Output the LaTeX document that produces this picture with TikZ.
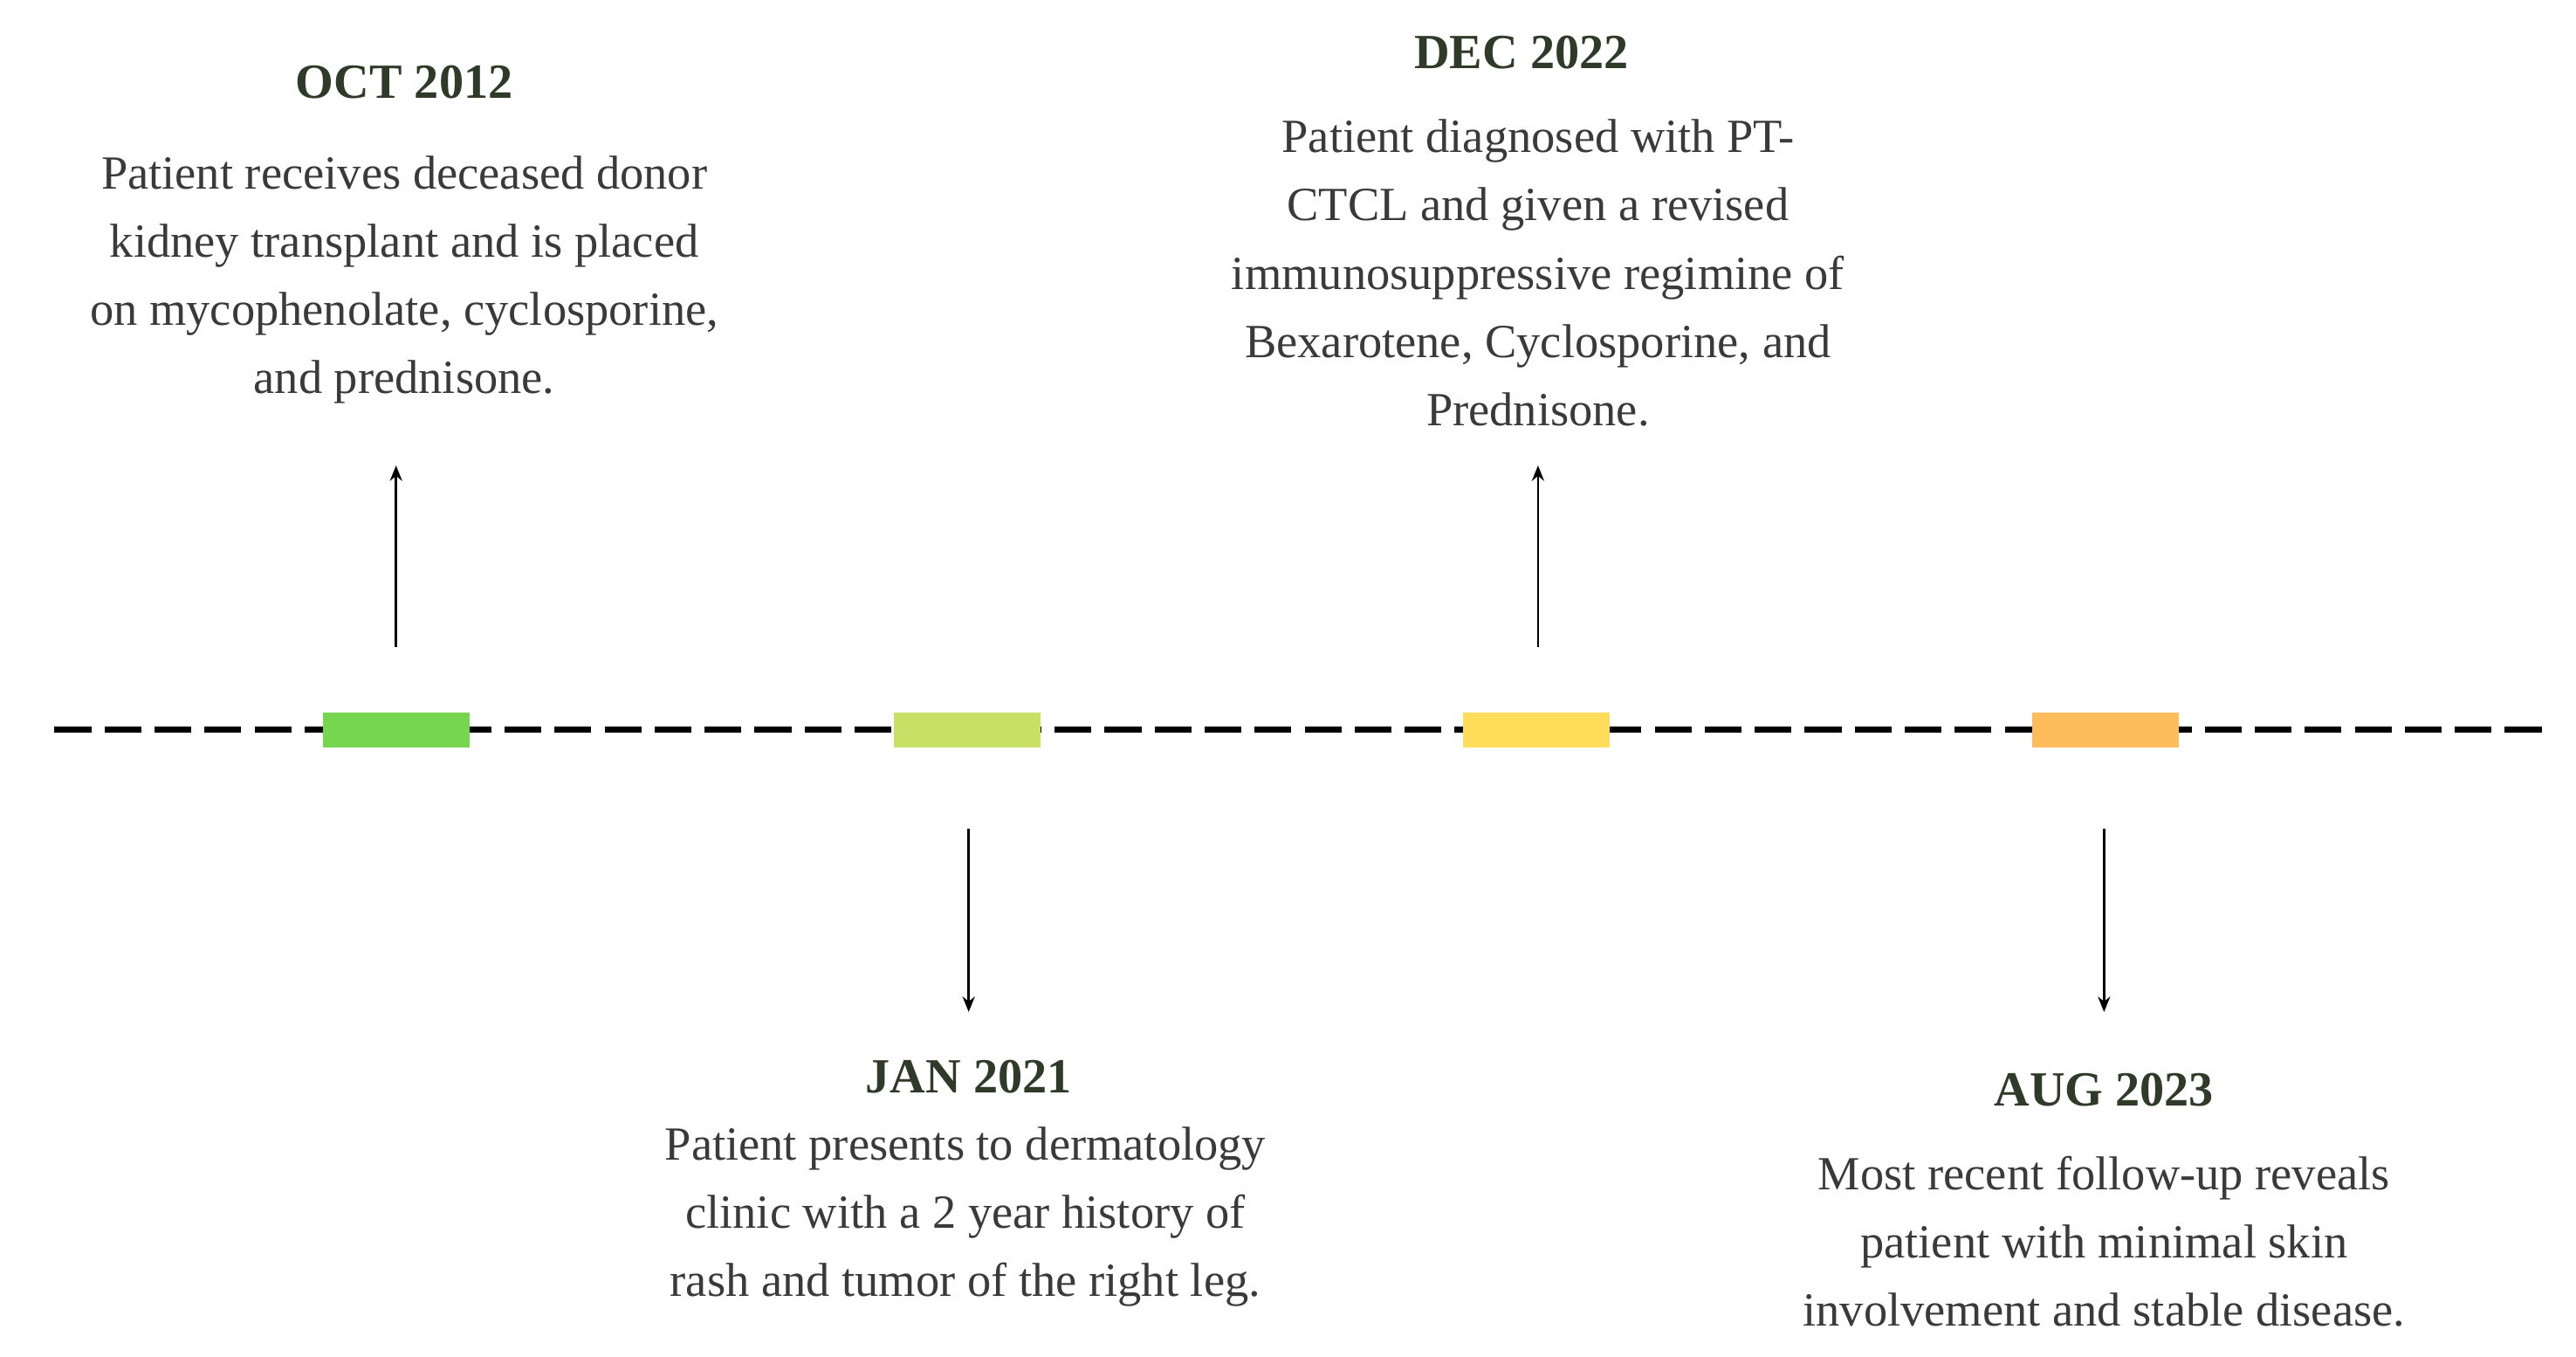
\documentclass[tikz,border=0pt]{standalone}
\usepackage{fontspec}
\setmainfont{Liberation Serif}
\usetikzlibrary{arrows.meta}
\definecolor{txtgray}{HTML}{3A3A3A}
\definecolor{hdgreen}{HTML}{2F3A28}
\definecolor{mkA}{HTML}{77D54F}
\definecolor{mkB}{HTML}{C9E066}
\definecolor{mkC}{HTML}{FFDC5A}
\definecolor{mkD}{HTML}{FFBC5A}
\tikzset{
  head/.style={font=\fontsize{16}{19}\selectfont\bfseries, text=hdgreen},
  body/.style={font=\fontsize{15.5}{22.2}\selectfont, text=txtgray, align=center},
  tick box/.style={minimum width=1.68cm, minimum height=0.4cm, inner sep=0pt},
  pin/.style={-{Stealth[length=5pt,width=4pt]}, thick}
}
\begin{document}
\begin{tikzpicture}[x=0.0189cm, y=-0.0189cm]
  \useasboundingbox (0,0) rectangle (1561,822);
  % The dashed time axis
  \coordinate (ax0) at (33,442);
  \coordinate (ax1) at (1545,442);
  \draw [line width=2.2pt, dash pattern=on 12pt off 4.3pt] (ax0) -- (ax1);
  % Coloured markers on the axis
  \foreach \nm/\xx/\col in {mA/240/mkA, mB/586/mkB, mC/931/mkC, mD/1276/mkD} {
    \node [tick box, fill=\col] (\nm) at (\xx,442) {};
  }
  % Upward events
  \coordinate (upA0) at (240,392);
  \coordinate (upA1) at (240,282);
  \draw [pin] (upA0) -- (upA1);
  \coordinate (upC0) at (932,392);
  \coordinate (upC1) at (932,282);
  \draw [pin] (upC0) -- (upC1);
  % Downward events
  \coordinate (dnB0) at (587,502);
  \coordinate (dnB1) at (587,613);
  \draw [pin] (dnB0) -- (dnB1);
  \coordinate (dnD0) at (1275,502);
  \coordinate (dnD1) at (1275,613);
  \draw [pin] (dnD0) -- (dnD1);
  % Labels
  \node [head] (hA) at (245,50) {OCT 2012};
  \node [body, anchor=north] (tA) at (245,88) {Patient receives deceased donor\\kidney transplant and is placed\\on mycophenolate, cyclosporine,\\and prednisone.};
  \node [head] (hB) at (587,652) {JAN 2021};
  \node [body, anchor=north] (tB) at (585,676) {Patient presents to dermatology\\clinic with a 2 year history of\\rash and tumor of the right leg.};
  \node [head] (hC) at (922,32) {DEC 2022};
  \node [body, anchor=north] (tC) at (932,66) {Patient diagnosed with PT-\\CTCL and given a revised\\immunosuppressive regimine of\\Bexarotene, Cyclosporine, and\\Prednisone.};
  \node [head] (hD) at (1275,660) {AUG 2023};
  \node [body, anchor=north] (tD) at (1275,694) {Most recent follow-up reveals\\patient with minimal skin\\involvement and stable disease.};
\end{tikzpicture}
\end{document}
